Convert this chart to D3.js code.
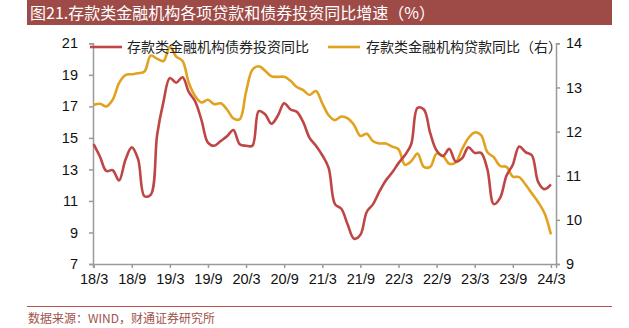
<!DOCTYPE html>
<html><head><meta charset="utf-8">
<script src="https://cdn.jsdelivr.net/npm/d3@7"></script>
<style>html,body{margin:0;padding:0;background:#fff;}svg{display:block;}</style>
</head><body>
<svg id="c" width="629" height="328"></svg>
<script>
const title = "图21.存款类金融机构各项贷款和债券投资同比增速（%）";
const source = "数据来源：WIND，财通证券研究所";
const seriesNames = ["存款类金融机构债券投资同比", "存款类金融机构贷款同比（右）"];
// monthly, 2018/3 .. 2024/3
const months = d3.range(0, 73);
const bondYoY = [14.6,13.8,12.9,12.95,12.3,13.6,14.4,13.65,11.3,11.4,
  15.2,17.3,18.8,18.5,18.85,17.9,17.3,16.1,14.7,14.5,
  14.8,15.1,15.5,14.6,14.5,14.5,16.7,16.5,15.9,16.4,
  17.2,16.8,16.65,16.0,15.0,14.5,13.9,13.1,10.8,10.5,
  9.5,8.6,8.85,10.3,10.8,11.6,12.3,12.8,13.4,13.9,
  14.6,16.9,16.8,15.3,14.2,13.85,14.3,13.5,13.7,14.4,
  14.05,14.05,13.0,10.8,11.2,12.6,13.3,14.45,14.1,13.9,
  12.2,11.75,12.05];
const loanYoY = [12.6,12.63,12.57,12.72,13.1,13.28,13.3,13.32,13.36,13.72,
  13.65,13.6,13.92,13.7,13.6,13.1,12.8,12.66,12.72,12.62,
  12.64,12.5,12.3,12.28,12.9,13.4,13.48,13.38,13.25,13.24,
  13.24,13.15,13.01,12.94,12.83,12.92,12.64,12.37,12.26,12.34,
  12.3,12.15,11.9,11.95,11.78,11.73,11.73,11.66,11.6,11.25,
  11.33,11.5,11.2,11.2,11.5,11.45,11.27,11.3,11.6,11.85,
  11.98,11.92,11.53,11.42,11.22,11.2,10.98,10.97,10.8,10.6,
  10.4,10.15,9.67];
const tickMonths = [0,6,12,18,24,30,36,42,48,54,60,66,72];
const tickLabels = ["18/3","18/9","19/3","19/9","20/3","20/9","21/3","21/9","22/3","22/9","23/3","23/9","24/3"];
const leftTicks = [7,9,11,13,15,17,19,21];
const rightTicks = [9,10,11,12,13,14];

const svg = d3.select("#c");
const RED = "#BE4644", GOLD = "#E1A21F", AXIS = "#9a9a9a";
const sans = "'Liberation Sans', Arial, sans-serif";
const cjk = "'Noto Sans CJK SC', sans-serif";

// title bar
svg.append("rect").attr("x",27).attr("y",0).attr("width",585).attr("height",25).attr("fill","#9E4B47");
svg.append("text").attr("x",30).attr("y",18.5).attr("fill","#fff").attr("font-family",cjk)
  .attr("font-size",16).text(title);

const x = d3.scaleLinear().domain([-0.1,72.8]).range([93,556]);
const yL = d3.scaleLinear().domain([7,21]).range([264,43.3]);
const yR = d3.scaleLinear().domain([9,14]).range([264,43.3]);

function styleAxis(g){
  g.selectAll(".domain").attr("stroke",AXIS).attr("stroke-width",1.5);
  g.selectAll(".tick line").attr("stroke",AXIS).attr("stroke-width",1.5);
  g.selectAll("text").attr("font-family",sans).attr("font-size",14.5).attr("fill","#111");
}
const gx = svg.append("g").attr("transform","translate(0,264)")
  .call(d3.axisBottom(x).tickValues(tickMonths).tickFormat((d,i)=>tickLabels[i]).tickSizeOuter(0).tickSize(4).tickPadding(6));
styleAxis(gx);
const gl = svg.append("g").attr("transform","translate(93,0)")
  .call(d3.axisLeft(yL).tickValues(leftTicks).tickFormat(d3.format("d")).tickSizeOuter(0).tickSize(4).tickPadding(11));
styleAxis(gl);
const gr = svg.append("g").attr("transform","translate(556,0)")
  .call(d3.axisRight(yR).tickValues(rightTicks).tickFormat(d3.format("d")).tickSizeOuter(0).tickSize(4).tickPadding(6));
styleAxis(gr);

const lineL = d3.line().x(d=>x(d)).y(d=>yL(bondYoY[d])).curve(d3.curveCatmullRom.alpha(0.5));
const lineR = d3.line().x(d=>x(d)).y(d=>yR(loanYoY[d])).curve(d3.curveCatmullRom.alpha(0.5));
svg.append("path").attr("d",lineR(months)).attr("fill","none").attr("stroke",GOLD).attr("stroke-width",2.6);
svg.append("path").attr("d",lineL(months)).attr("fill","none").attr("stroke",RED).attr("stroke-width",2.6);

// legend
const leg = [{c:RED,x0:90,tx:127,t:seriesNames[0]},{c:GOLD,x0:328,tx:366,t:seriesNames[1]}];
leg.forEach(l=>{
  svg.append("line").attr("x1",l.x0).attr("x2",l.x0+32).attr("y1",47).attr("y2",47).attr("stroke",l.c).attr("stroke-width",2.6);
  svg.append("text").attr("x",l.tx).attr("y",52).attr("font-family",cjk).attr("font-size",14).attr("fill","#222").text(l.t);
});

// footer
svg.append("line").attr("x1",27).attr("x2",612).attr("y1",306.5).attr("y2",306.5).attr("stroke","#B5534E").attr("stroke-width",1);
svg.append("text").attr("x",28).attr("y",323).attr("font-family",cjk).attr("font-size",12).attr("fill","#A0524D").text(source);
</script>
</body></html>
